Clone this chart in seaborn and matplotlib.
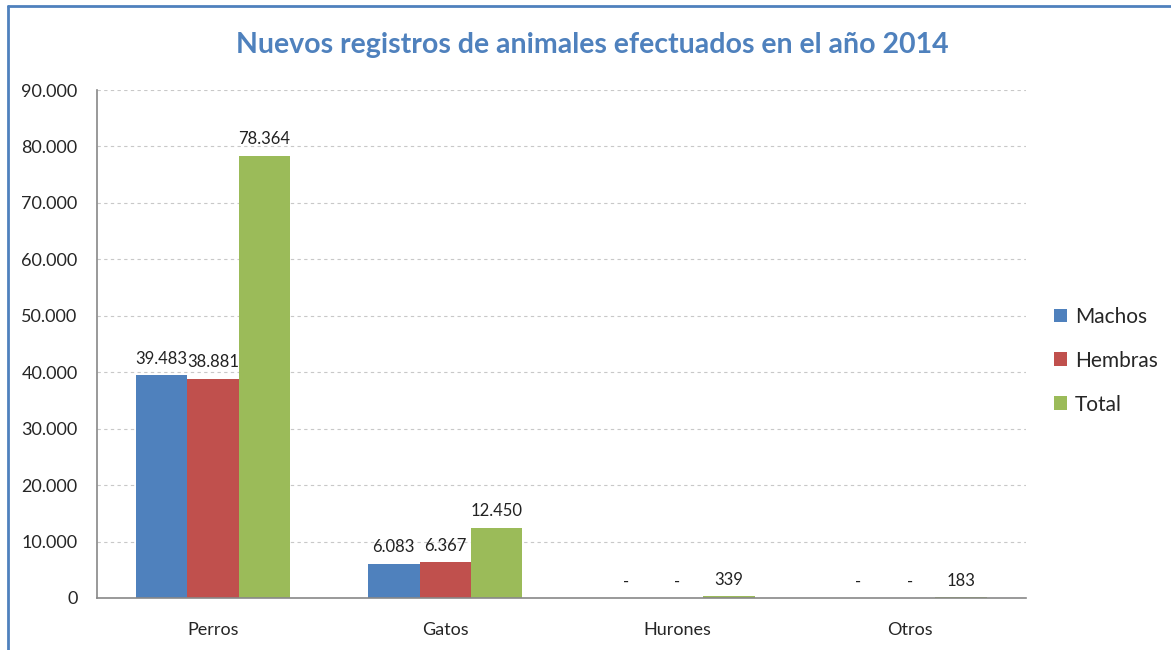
import seaborn as sns
import pandas as pd
import matplotlib.pyplot as plt
from matplotlib.lines import Line2D
from matplotlib.patches import Patch

categories = ['Perros', 'Gatos', 'Hurones', 'Otros']
series = ['Machos', 'Hembras', 'Total']
machos = [39483, 6083, 0, 0]
hembras = [38881, 6367, 0, 0]
total = [78364, 12450, 339, 183]
yticks = [0, 10000, 20000, 30000, 40000, 50000, 60000, 70000, 80000, 90000]

colors = ['#4F81BD', '#C0504D', '#9BBB59']


def fmt_es(v):
    """Spanish thousands separator, '-' for zero"""
    if v == 0:
        return '-'
    return f'{int(v):,}'.replace(',', '.')


df = pd.DataFrame({
    'animal': categories * 3,
    'serie': [s for s in series for _ in categories],
    'valor': machos + hembras + total,
})

sns.set_style('white')
plt.rcParams['font.family'] = ['Lato', 'DejaVu Sans']

fig = plt.figure(figsize=(11.71, 6.5), dpi=100)
ax = fig.add_axes([0.0828, 0.08, 0.7932, 0.7815])

sns.barplot(df, x='animal', y='valor', hue='serie', order=categories, hue_order=series,
            palette=colors, width=0.665, gap=0, saturation=1, legend=False, linewidth=0, ax=ax)

for container, vals in zip(ax.containers, [machos, hembras, total]):
    ax.bar_label(container, labels=[fmt_es(v) for v in vals], padding=6, fontsize=12, color='#222222')

ax.set_ylim(0, 90000)
ax.set_yticks(yticks)
ax.set_yticklabels([fmt_es(t) if t else '0' for t in yticks], fontsize=13)
ax.tick_params(axis='x', labelsize=13, pad=17, length=0)
ax.tick_params(axis='y', length=0, pad=14)
ax.set_xlabel('')
ax.set_ylabel('')
ax.yaxis.grid(True, linestyle=(0, (3, 3)), color='#C8C8C8', linewidth=0.8)
ax.set_axisbelow(True)
for side in ['top', 'right']:
    ax.spines[side].set_visible(False)
for side in ['left', 'bottom']:
    ax.spines[side].set_color('#888888')
    ax.spines[side].set_linewidth(1.2)

handles = [Patch(facecolor=c, edgecolor='none') for c in colors]
fig.legend(handles, series, loc='center left', bbox_to_anchor=(0.884, 0.445), frameon=False,
           fontsize=15, handlelength=0.65, handleheight=0.65, handletextpad=0.35, labelspacing=1.15)

fig.text(0.506, 0.93, 'Nuevos registros de animales efectuados en el año 2014', ha='center', va='center',
         fontsize=20.5, fontweight='bold', color='#4F81BD')

# outer frame (top and left edges only)
fig.add_artist(Line2D([0.007, 0.007], [0, 0.991], color='#4F81BD', linewidth=2))
fig.add_artist(Line2D([0.007, 1.0], [0.991, 0.991], color='#4F81BD', linewidth=2))

fig.savefig('out.png', dpi=100)
